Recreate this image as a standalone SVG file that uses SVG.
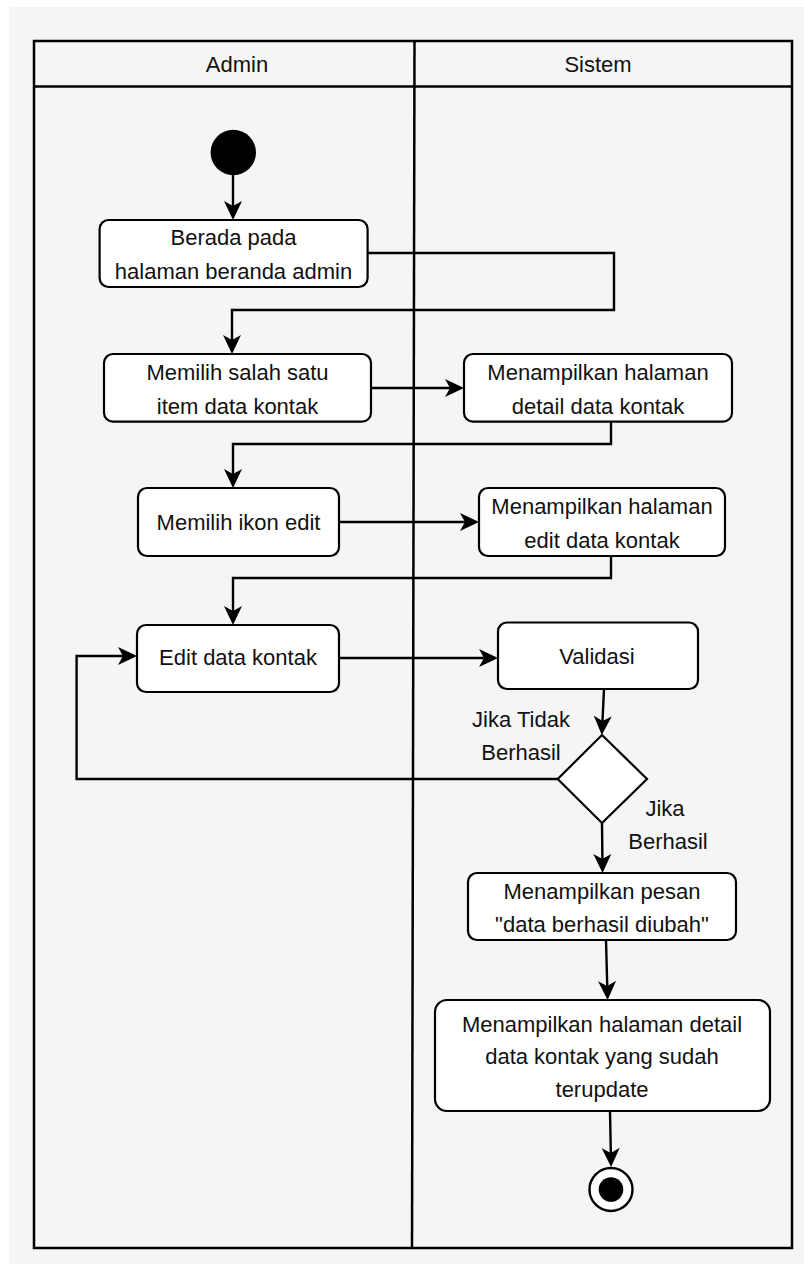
<svg xmlns="http://www.w3.org/2000/svg" width="804" height="1264" viewBox="0 0 804 1264">
  <defs>
    <marker id="arr" markerUnits="userSpaceOnUse" markerWidth="22" markerHeight="20" refX="15" refY="9" orient="auto">
      <path d="M0,0 L19,9 L0,18 L5,9 Z" fill="#000"/>
    </marker>
    <style>
      .frame{fill:none;stroke:#000;stroke-width:2.5}
      .box{fill:#fff;stroke:#000;stroke-width:2.2}
      .con{fill:none;stroke:#000;stroke-width:2.4;marker-end:url(#arr)}
      text{font-family:"Liberation Sans",Arial,sans-serif;font-size:22px;fill:#111;text-anchor:middle}
    </style>
  </defs>
  <rect x="0" y="0" width="804" height="1264" fill="#fff"/>
  <rect x="9" y="7" width="795" height="1257" fill="#f5f5f5"/>

  <g id="swimlanes">
    <rect class="frame" x="34" y="41" width="758" height="1207"/>
    <line class="frame" x1="34" y1="86.5" x2="792" y2="86.5"/>
    <line class="frame" x1="414.5" y1="41" x2="412" y2="1248"/>
    <text x="237" y="72">Admin</text>
    <text x="598" y="72">Sistem</text>
  </g>

  <g id="connectors">
    <line class="con" x1="233" y1="175" x2="233" y2="216"/>
    <polyline class="con" points="367.5,253 614,253 614,310 232,310 232,350"/>
    <line class="con" x1="371" y1="388" x2="460" y2="388"/>
    <polyline class="con" points="611,422 611,444 233,444 233,484"/>
    <line class="con" x1="339" y1="522" x2="475" y2="522"/>
    <polyline class="con" points="611,556 611,578 233,578 233,621"/>
    <line class="con" x1="339" y1="658" x2="494" y2="658"/>
    <line class="con" x1="604" y1="689" x2="602" y2="731"/>
    <polyline class="con" points="557.7,779 76.6,779 76.6,656 133,656"/>
    <line class="con" x1="602" y1="823" x2="602.5" y2="869"/>
    <line class="con" x1="606" y1="940" x2="607.5" y2="996"/>
    <line class="con" x1="610" y1="1111" x2="611" y2="1163"/>
    <text x="521" y="727">Jika Tidak</text>
    <text x="521" y="760">Berhasil</text>
    <text x="665" y="816">Jika</text>
    <text x="668" y="849">Berhasil</text>
  </g>

  <g id="start">
    <circle cx="233.3" cy="152.5" r="22.7" fill="#000"/>
  </g>

  <g id="n1">
    <rect class="box" x="99.6" y="220" width="268" height="67" rx="9"/>
    <text x="233.5" y="245">Berada pada</text>
    <text x="233.5" y="279">halaman beranda admin</text>
  </g>

  <g id="n2">
    <rect class="box" x="104" y="354" width="267" height="67.7" rx="9"/>
    <text x="237.5" y="380">Memilih salah satu</text>
    <text x="237.5" y="414">item data kontak</text>
  </g>

  <g id="n3">
    <rect class="box" x="464" y="354" width="268" height="67.7" rx="9"/>
    <text x="598" y="380">Menampilkan halaman</text>
    <text x="598" y="414">detail data kontak</text>
  </g>

  <g id="n4">
    <rect class="box" x="138" y="488" width="201" height="68" rx="9"/>
    <text x="238.5" y="530">Memilih ikon edit</text>
  </g>

  <g id="n5">
    <rect class="box" x="479" y="488" width="246" height="68" rx="9"/>
    <text x="602" y="514">Menampilkan halaman</text>
    <text x="602" y="548">edit data kontak</text>
  </g>

  <g id="n6">
    <rect class="box" x="137" y="625" width="202" height="67" rx="9"/>
    <text x="238" y="665">Edit data kontak</text>
  </g>

  <g id="n7">
    <rect class="box" x="498" y="622.5" width="200" height="66.5" rx="9"/>
    <text x="597" y="664">Validasi</text>
  </g>

  <g id="decision">
    <polygon class="box" points="602,735 647,779 602,823 557.7,779"/>
  </g>

  <g id="n8">
    <rect class="box" x="468" y="873" width="268" height="67" rx="9"/>
    <text x="602" y="899">Menampilkan pesan</text>
    <text x="602" y="932">"data berhasil diubah"</text>
  </g>

  <g id="n9">
    <rect class="box" x="435" y="1000" width="335" height="111" rx="12"/>
    <text x="602" y="1032">Menampilkan halaman detail</text>
    <text x="602" y="1064">data kontak yang sudah</text>
    <text x="602" y="1097">terupdate</text>
  </g>

  <g id="end">
    <circle cx="611" cy="1189.5" r="21.5" fill="#fff" stroke="#000" stroke-width="2.4"/>
    <circle cx="611" cy="1189.5" r="12.3" fill="#000"/>
  </g>
</svg>
